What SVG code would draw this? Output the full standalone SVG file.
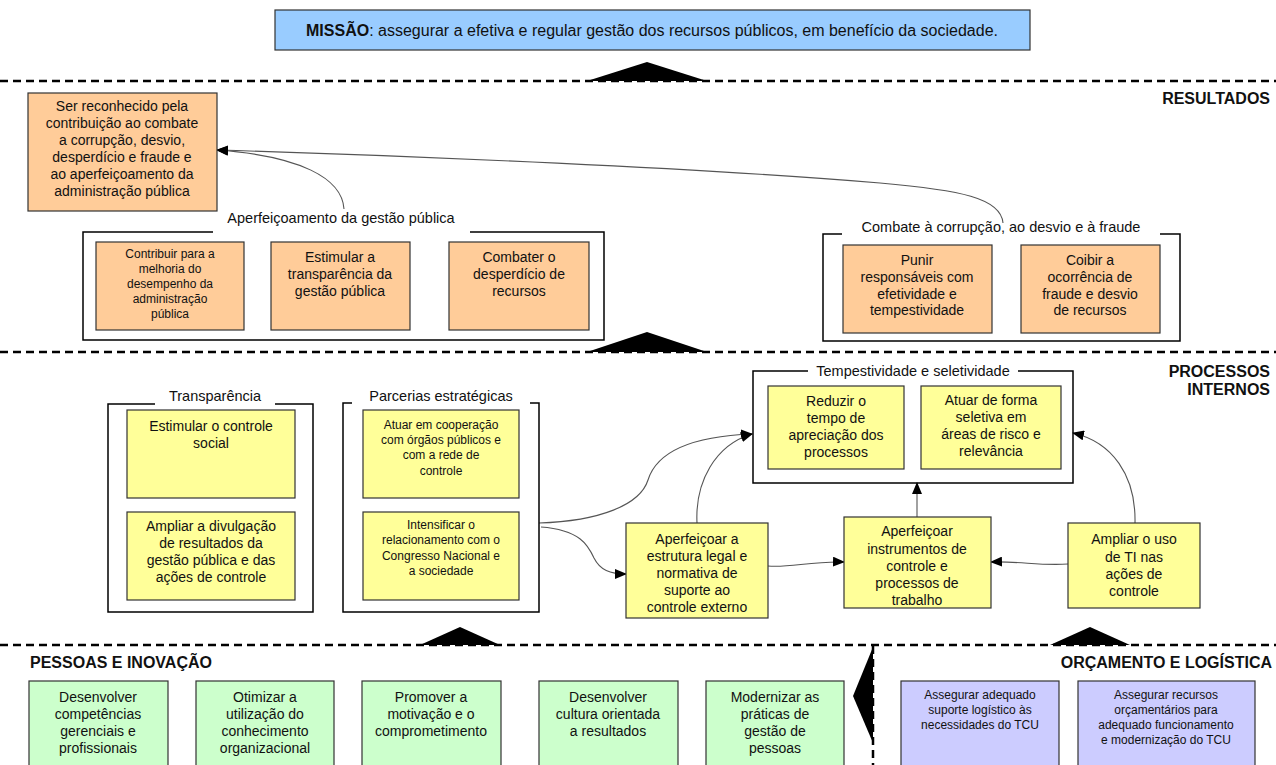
<svg xmlns="http://www.w3.org/2000/svg" width="1276" height="765" viewBox="0 0 1276 765">
<defs>
<style>
text{font-family:"Liberation Sans",Arial,sans-serif;fill:#111}
.c{text-anchor:middle;font-size:14px}
.s{text-anchor:middle;font-size:12px}
.l{text-anchor:middle;font-size:14.5px}
.h{font-size:16px;font-weight:bold}
.r{text-anchor:end}
.dash{stroke:#000;stroke-width:2.5;stroke-dasharray:8 5;fill:none}
.grp{fill:none;stroke:#000;stroke-width:1.5}
.or{fill:#FFCC99;stroke:#333;stroke-width:1.2}
.ye{fill:#FFFF99;stroke:#333;stroke-width:1.2}
.gr{fill:#CCFFCC;stroke:#333;stroke-width:1.2}
.pu{fill:#CCCCFF;stroke:#333;stroke-width:1.2}
.con{fill:none;stroke:#555;stroke-width:1.1}
.tri{fill:#000}
</style>
<marker id="ah" markerWidth="12" markerHeight="10" refX="11" refY="5" orient="auto" markerUnits="userSpaceOnUse">
<path d="M0,0 L12,5 L0,10 Z" fill="#000"/>
</marker>
</defs>
<rect width="1276" height="765" fill="#fff"/>

<!-- separators -->
<g id="separators">
<line class="dash" x1="0" y1="81" x2="1276" y2="81"/>
<polygon class="tri" points="587,81 647,62 707,81"/>
<line class="dash" x1="0" y1="352" x2="1276" y2="352"/>
<polygon class="tri" points="587,352 647,332 707,352"/>
<line class="dash" x1="0" y1="645" x2="1276" y2="645"/>
<polygon class="tri" points="420,645 460,627 500,645"/>
<polygon class="tri" points="1050,645 1090,627 1130,645"/>
<line class="dash" x1="873" y1="646" x2="873" y2="765"/>
<polygon class="tri" points="873,647 853,696 873,743"/>
</g>

<!-- section titles -->
<g id="titles">
<text class="h r" x="1270" y="104">RESULTADOS</text>
<text class="h r" x="1270" y="377">PROCESSOS</text>
<text class="h r" x="1270" y="395">INTERNOS</text>
<text class="h" x="30" y="668">PESSOAS E INOVAÇÃO</text>
<text class="h r" x="1272" y="668">ORÇAMENTO E LOGÍSTICA</text>
</g>

<!-- mission -->
<g id="missao">
<rect x="275" y="10" width="755" height="40" fill="#99CCFF" stroke="#333" stroke-width="1.2"/>
<text x="652" y="36" style="text-anchor:middle;font-size:16px"><tspan font-weight="bold">MISSÃO</tspan>: assegurar a efetiva e regular gestão dos recursos públicos, em benefício da sociedade.</text>
</g>

<!-- connectors -->
<g id="connectors">
<path class="con" d="M344,209 C342,178 300,156 217,150" marker-end="url(#ah)"/>
<path class="con" d="M1003,223 C1001,198 960,190 880,183 C700,168 420,156 217,150" marker-end="url(#ah)"/>
<path class="con" d="M539,523 C600,521 640,505 648,480 C658,448 700,436 752,434" marker-end="url(#ah)"/>
<path class="con" d="M541,527 C580,530 588,545 594,558 C600,570 610,574 626,574" marker-end="url(#ah)"/>
<path class="con" d="M697,523 C695,482 715,445 752,434" marker-end="url(#ah)"/>
<path class="con" d="M768,566 C790,568 810,561 844,562" marker-end="url(#ah)"/>
<path class="con" d="M1068,564 C1040,566 1020,561 991,562" marker-end="url(#ah)"/>
<path class="con" d="M917,517 L917,483" marker-end="url(#ah)"/>
<path class="con" d="M1135,523 C1136,475 1112,442 1073,433" marker-end="url(#ah)"/>
</g>

<!-- RESULTADOS -->
<g id="n_reconhecido">
<rect class="or" x="28" y="93" width="189" height="118"/>
<text class="c" x="122" y="111">Ser reconhecido pela</text>
<text class="c" x="122" y="128">contribuição ao combate</text>
<text class="c" x="122" y="145">a corrupção, desvio,</text>
<text class="c" x="122" y="162">desperdício e fraude e</text>
<text class="c" x="122" y="179">ao aperfeiçoamento da</text>
<text class="c" x="122" y="196">administração pública</text>
</g>

<g id="g_aperfeicoamento">
<path class="grp" d="M213,232 H83 V340 H604 V232 H470"/>
<text class="l" x="341" y="223">Aperfeiçoamento da gestão pública</text>
</g>
<g id="n_contribuir">
<rect class="or" x="96" y="242" width="148" height="88"/>
<text class="s" x="170" y="258">Contribuir para a</text>
<text class="s" x="170" y="273">melhoria do</text>
<text class="s" x="170" y="288">desempenho da</text>
<text class="s" x="170" y="303">administração</text>
<text class="s" x="170" y="318">pública</text>
</g>
<g id="n_estimular_transp">
<rect class="or" x="271" y="242" width="139" height="88"/>
<text class="c" x="340" y="262">Estimular a</text>
<text class="c" x="340" y="279">transparência da</text>
<text class="c" x="340" y="296">gestão pública</text>
</g>
<g id="n_combater">
<rect class="or" x="449" y="242" width="140" height="88"/>
<text class="c" x="519" y="262">Combater o</text>
<text class="c" x="519" y="279">desperdício de</text>
<text class="c" x="519" y="296">recursos</text>
</g>

<g id="g_combate">
<path class="grp" d="M842,234 H823 V341 H1180 V234 H1160"/>
<text class="l" x="1001" y="232">Combate à corrupção, ao desvio e à fraude</text>
</g>
<g id="n_punir">
<rect class="or" x="843" y="245" width="149" height="88"/>
<text class="c" x="917" y="265">Punir</text>
<text class="c" x="917" y="282">responsáveis com</text>
<text class="c" x="917" y="299">efetividade e</text>
<text class="c" x="917" y="315">tempestividade</text>
</g>
<g id="n_coibir">
<rect class="or" x="1021" y="245" width="139" height="88"/>
<text class="c" x="1090" y="265">Coibir a</text>
<text class="c" x="1090" y="282">ocorrência de</text>
<text class="c" x="1090" y="299">fraude e desvio</text>
<text class="c" x="1090" y="315">de recursos</text>
</g>

<!-- PROCESSOS INTERNOS -->
<g id="g_transparencia">
<path class="grp" d="M155,404 H108 V612 H313 V404 H275"/>
<text class="l" x="215" y="401">Transparência</text>
</g>
<g id="n_controle_social">
<rect class="ye" x="127" y="410" width="168" height="88"/>
<text class="c" x="211" y="431">Estimular o controle</text>
<text class="c" x="211" y="448">social</text>
</g>
<g id="n_divulgacao">
<rect class="ye" x="127" y="512" width="168" height="88"/>
<text class="c" x="211" y="531">Ampliar a divulgação</text>
<text class="c" x="211" y="548">de resultados da</text>
<text class="c" x="211" y="565">gestão pública e das</text>
<text class="c" x="211" y="582">ações de controle</text>
</g>

<g id="g_parcerias">
<path class="grp" d="M352,403 H343 V612 H539 V403 H530"/>
<text class="l" x="441" y="401">Parcerias estratégicas</text>
</g>
<g id="n_cooperacao">
<rect class="ye" x="363" y="410" width="156" height="88"/>
<text class="s" x="441" y="429">Atuar em cooperação</text>
<text class="s" x="441" y="444">com órgãos públicos e</text>
<text class="s" x="441" y="459">com a rede de</text>
<text class="s" x="441" y="475">controle</text>
</g>
<g id="n_congresso">
<rect class="ye" x="363" y="512" width="156" height="88"/>
<text class="s" x="441" y="529">Intensificar o</text>
<text class="s" x="441" y="544">relacionamento com o</text>
<text class="s" x="441" y="560">Congresso Nacional e</text>
<text class="s" x="441" y="575">a sociedade</text>
</g>

<g id="g_tempestividade">
<path class="grp" d="M808,371 H753 V483 H1073 V371 H1018"/>
<text class="l" x="913" y="376">Tempestividade e seletividade</text>
</g>
<g id="n_reduzir">
<rect class="ye" x="768" y="386" width="136" height="83"/>
<text class="c" x="836" y="406">Reduzir o</text>
<text class="c" x="836" y="423">tempo de</text>
<text class="c" x="836" y="440">apreciação dos</text>
<text class="c" x="836" y="457">processos</text>
</g>
<g id="n_seletiva">
<rect class="ye" x="921" y="386" width="140" height="83"/>
<text class="c" x="991" y="405">Atuar de forma</text>
<text class="c" x="991" y="422">seletiva em</text>
<text class="c" x="991" y="439">áreas de risco e</text>
<text class="c" x="991" y="456">relevância</text>
</g>

<g id="n_estrutura_legal">
<rect class="ye" x="626" y="523" width="142" height="95"/>
<text class="c" x="697" y="544">Aperfeiçoar a</text>
<text class="c" x="697" y="561">estrutura legal e</text>
<text class="c" x="697" y="578">normativa de</text>
<text class="c" x="697" y="595">suporte ao</text>
<text class="c" x="697" y="612">controle externo</text>
</g>
<g id="n_instrumentos">
<rect class="ye" x="844" y="517" width="147" height="91"/>
<text class="c" x="917" y="536">Aperfeiçoar</text>
<text class="c" x="917" y="554">instrumentos de</text>
<text class="c" x="917" y="571">controle e</text>
<text class="c" x="917" y="588">processos de</text>
<text class="c" x="917" y="605">trabalho</text>
</g>
<g id="n_ti">
<rect class="ye" x="1068" y="523" width="132" height="85"/>
<text class="c" x="1134" y="544">Ampliar o uso</text>
<text class="c" x="1134" y="562">de TI nas</text>
<text class="c" x="1134" y="579">ações de</text>
<text class="c" x="1134" y="596">controle</text>
</g>

<!-- PESSOAS E INOVAÇÃO -->
<g id="n_competencias">
<rect class="gr" x="29" y="681" width="139" height="90"/>
<text class="c" x="98" y="702">Desenvolver</text>
<text class="c" x="98" y="719">competências</text>
<text class="c" x="98" y="736">gerenciais e</text>
<text class="c" x="98" y="753">profissionais</text>
</g>
<g id="n_conhecimento">
<rect class="gr" x="196" y="681" width="138" height="90"/>
<text class="c" x="265" y="702">Otimizar a</text>
<text class="c" x="265" y="719">utilização do</text>
<text class="c" x="265" y="736">conhecimento</text>
<text class="c" x="265" y="753">organizacional</text>
</g>
<g id="n_motivacao">
<rect class="gr" x="362" y="681" width="139" height="90"/>
<text class="c" x="431" y="702">Promover a</text>
<text class="c" x="431" y="719">motivação e o</text>
<text class="c" x="431" y="736">comprometimento</text>
</g>
<g id="n_cultura">
<rect class="gr" x="539" y="681" width="139" height="90"/>
<text class="c" x="608" y="702">Desenvolver</text>
<text class="c" x="608" y="719">cultura orientada</text>
<text class="c" x="608" y="736">a resultados</text>
</g>
<g id="n_praticas">
<rect class="gr" x="706" y="681" width="138" height="90"/>
<text class="c" x="775" y="702">Modernizar as</text>
<text class="c" x="775" y="719">práticas de</text>
<text class="c" x="775" y="736">gestão de</text>
<text class="c" x="775" y="753">pessoas</text>
</g>

<!-- ORÇAMENTO E LOGÍSTICA -->
<g id="n_logistico">
<rect class="pu" x="901" y="681" width="158" height="90"/>
<text class="s" x="980" y="699">Assegurar adequado</text>
<text class="s" x="980" y="714">suporte logístico às</text>
<text class="s" x="980" y="729">necessidades do TCU</text>
</g>
<g id="n_orcamentarios">
<rect class="pu" x="1078" y="681" width="177" height="90"/>
<text class="s" x="1166" y="699">Assegurar recursos</text>
<text class="s" x="1166" y="714">orçamentários para</text>
<text class="s" x="1166" y="729">adequado funcionamento</text>
<text class="s" x="1166" y="744">e modernização do TCU</text>
</g>
</svg>
